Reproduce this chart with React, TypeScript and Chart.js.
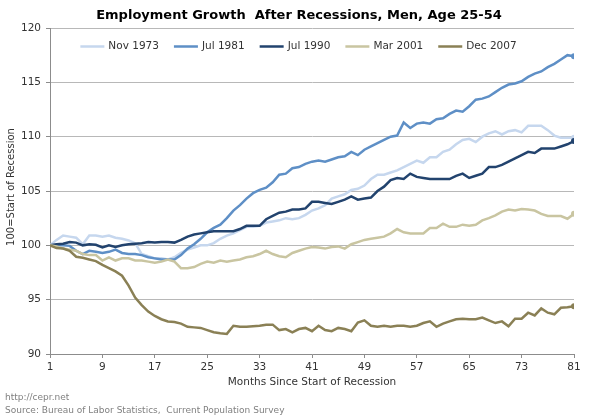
import React, { useEffect, useRef } from "react";
import { Chart, registerables } from "chart.js";

Chart.register(...registerables);

const chartTitle = "Employment Growth  After Recessions, Men, Age 25-54";
const xAxisTitle = "Months Since Start of Recession";
const yAxisTitle = "100=Start of Recession";
const footerLines = ["http://cepr.net", "Source: Bureau of Labor Statistics,  Current Population Survey"];

const months = Array.from({ length: 81 }, (_, i) => i + 1);
const xTicks = [1, 9, 17, 25, 33, 41, 49, 57, 65, 73, 81];
const yTicks = [90, 95, 100, 105, 110, 115, 120];

const seriesNames = ["Nov 1973", "Jul 1981", "Jul 1990", "Mar 2001", "Dec 2007"];
const seriesColors = ["#c6d7ee", "#5e8fc6", "#22436e", "#c9c5a1", "#8a8055"];

const nov1973 = [
  100.0, 100.5, 100.9, 100.8, 100.7, 100.1, 100.9, 100.9, 100.8, 100.9,
  100.7, 100.6, 100.45, 100.2, 99.2, 99.0, 98.8, 98.8, 98.7, 98.9,
  99.3, 99.6, 99.8, 100.0, 100.0, 100.2, 100.6, 100.9, 101.1, 101.4,
  101.7, 101.7, 101.8, 102.1, 102.2, 102.3, 102.5, 102.4, 102.5, 102.8,
  103.2, 103.4, 103.7, 104.3, 104.5, 104.7, 105.1, 105.2, 105.5, 106.1,
  106.5, 106.5, 106.7, 106.9, 107.2, 107.5, 107.8, 107.6, 108.1, 108.1,
  108.6, 108.8, 109.3, 109.7, 109.8, 109.5, 110.0, 110.3, 110.5, 110.2,
  110.5, 110.6, 110.4, 111.0, 111.0, 111.0, 110.6, 110.1, 109.9, 109.9,
  109.9,
];

const jul1981 = [
  100.0, 100.0, 100.0, 99.95, 99.5, 99.2, 99.5, 99.4, 99.3, 99.4,
  99.6, 99.3, 99.2, 99.2, 99.1, 98.9, 98.8, 98.7, 98.7, 98.7,
  99.1, 99.7, 100.1, 100.6, 101.2, 101.6, 101.9, 102.5, 103.2, 103.7,
  104.3, 104.8, 105.1, 105.3, 105.8, 106.5, 106.6, 107.1, 107.2, 107.5,
  107.7, 107.8, 107.7, 107.9, 108.1, 108.2, 108.6, 108.3, 108.8, 109.1,
  109.4, 109.7, 110.0, 110.1, 111.3, 110.8, 111.2, 111.3, 111.2, 111.6,
  111.7, 112.1, 112.4, 112.3, 112.8, 113.4, 113.5, 113.7, 114.1, 114.5,
  114.8, 114.9, 115.1, 115.5, 115.8, 116.0, 116.4, 116.7, 117.1, 117.5,
  117.4,
];

const jul1990 = [
  100.0, 100.1, 100.15, 100.3, 100.25, 100.0, 100.1, 100.05, 99.8, 100.0,
  99.85, 100.0, 100.1, 100.15, 100.2, 100.3, 100.25, 100.3, 100.3, 100.25,
  100.5, 100.8, 101.0, 101.1, 101.2, 101.3, 101.3, 101.3, 101.3, 101.5,
  101.8, 101.8, 101.8, 102.4, 102.7, 103.0, 103.1, 103.3, 103.3, 103.4,
  104.0, 104.0, 103.9, 103.8, 104.0, 104.2, 104.5, 104.2, 104.3, 104.4,
  105.0, 105.4, 106.0, 106.2, 106.1, 106.6, 106.3, 106.2, 106.1, 106.1,
  106.1, 106.1, 106.4, 106.6, 106.2, 106.4, 106.6, 107.2, 107.2, 107.4,
  107.7, 108.0, 108.3, 108.6, 108.5, 108.9, 108.9, 108.9, 109.1, 109.3,
  109.6,
];

const mar2001 = [
  100.0, 99.9, 99.7, 99.6, 99.5, 99.2, 99.1, 99.1, 98.6, 98.9,
  98.6, 98.8, 98.8, 98.6, 98.6, 98.5, 98.4, 98.5, 98.7, 98.5,
  97.9, 97.9, 98.0, 98.3, 98.5, 98.4, 98.6, 98.5, 98.6, 98.7,
  98.9, 99.0, 99.2, 99.5, 99.2, 99.0, 98.9, 99.3, 99.5, 99.7,
  99.85, 99.8, 99.7, 99.85, 99.9, 99.7, 100.1, 100.3, 100.5, 100.6,
  100.7, 100.8, 101.1, 101.5, 101.2, 101.1, 101.1, 101.1, 101.6, 101.6,
  102.0, 101.7, 101.7, 101.9, 101.8, 101.9, 102.3, 102.5, 102.75, 103.1,
  103.3, 103.2, 103.35, 103.3, 103.2, 102.9, 102.7, 102.7, 102.7, 102.45,
  102.9,
];

const dec2007 = [
  100.0, 99.75, 99.7, 99.5, 98.95, 98.85, 98.7, 98.55, 98.2, 97.9,
  97.6, 97.2, 96.3, 95.2, 94.5, 93.9, 93.5, 93.2, 93.0, 92.95,
  92.8, 92.5, 92.45, 92.4, 92.2, 92.0, 91.9, 91.85, 92.6, 92.5,
  92.5, 92.55, 92.6, 92.7, 92.7, 92.2, 92.3, 92.0, 92.3, 92.4,
  92.1, 92.6, 92.2, 92.1, 92.4, 92.3, 92.1, 92.9, 93.1, 92.6,
  92.5, 92.6, 92.5, 92.6, 92.6, 92.5, 92.6, 92.85, 93.0, 92.5,
  92.8, 93.0, 93.2, 93.25, 93.2, 93.2, 93.35, 93.1, 92.85, 93.0,
  92.55, 93.25, 93.25, 93.8, 93.55, 94.2, 93.8, 93.65, 94.25, 94.3,
  94.4,
];

const seriesValues = [nov1973, jul1981, jul1990, mar2001, dec2007];

const FONT = '"DejaVu Sans", Verdana, sans-serif';

const overlayPlugin = {
  id: "overlayText",
  afterDraw(chart: any) {
    const ctx = chart.ctx as CanvasRenderingContext2D;
    const area = chart.chartArea;
    ctx.save();

    // title
    ctx.fillStyle = "#000000";
    ctx.font = `bold 13px ${FONT}`;
    ctx.textAlign = "center";
    ctx.textBaseline = "middle";
    ctx.fillText(chartTitle, 299, 16);

    // legend (inside plot, top)
    ctx.font = `10.5px ${FONT}`;
    const lineLen = 24;
    const gapLineText = 4;
    const gapItems = 15;
    const widths = seriesNames.map((n) => ctx.measureText(n).width);
    const total =
      widths.reduce((a, w) => a + lineLen + gapLineText + w, 0) + gapItems * (seriesNames.length - 1);
    let lx = 298.5 - total / 2;
    const ly = 46.5;
    seriesNames.forEach((name, i) => {
      ctx.strokeStyle = seriesColors[i];
      ctx.lineWidth = 2.5;
      ctx.beginPath();
      ctx.moveTo(lx, ly);
      ctx.lineTo(lx + lineLen, ly);
      ctx.stroke();
      ctx.fillStyle = "#333333";
      ctx.textAlign = "left";
      ctx.textBaseline = "middle";
      ctx.fillText(name, lx + lineLen + gapLineText, ly);
      lx += lineLen + gapLineText + widths[i] + gapItems;
    });

    // x axis title
    ctx.fillStyle = "#333333";
    ctx.font = `10.5px ${FONT}`;
    ctx.textAlign = "center";
    ctx.textBaseline = "middle";
    ctx.fillText(xAxisTitle, (area.left + area.right) / 2, 382);

    // y axis title
    ctx.save();
    ctx.translate(11, (area.top + area.bottom) / 2 - 4);
    ctx.rotate(-Math.PI / 2);
    ctx.font = `10px ${FONT}`;
    ctx.fillText(yAxisTitle, 0, 0);
    ctx.restore();

    // footer
    ctx.fillStyle = "#808080";
    ctx.font = `9px ${FONT}`;
    ctx.textAlign = "left";
    ctx.textBaseline = "middle";
    ctx.fillText(footerLines[0], 5, 397.5);
    ctx.fillText(footerLines[1], 5, 410.5);

    ctx.restore();
  },
};

export default function App() {
  const canvasRef = useRef<HTMLCanvasElement | null>(null);

  useEffect(() => {
    document.body.style.margin = "0";
    const canvas = canvasRef.current;
    if (!canvas) return;
    const last = months.length - 1;
    const chart = new Chart(canvas, {
      type: "line",
      data: {
        datasets: seriesNames.map((name, i) => ({
          label: name,
          data: seriesValues[i].map((v, j) => ({ x: months[j], y: v })),
          borderColor: seriesColors[i],
          backgroundColor: seriesColors[i],
          borderWidth: 2.5,
          tension: 0,
          fill: false,
          pointRadius: (c: any) => (c.dataIndex === last ? 3 : 0),
          pointHoverRadius: 0,
          pointBorderWidth: 0,
          order: seriesNames.length - i,
        })),
      },
      options: {
        responsive: false,
        animation: false,
        devicePixelRatio: 1,
        events: [],
        layout: { padding: { left: 5, right: 15, top: 28, bottom: 0 } },
        plugins: {
          legend: { display: false },
          title: { display: false },
          tooltip: { enabled: false },
        },
        scales: {
          x: {
            type: "linear",
            min: 1,
            max: 81,
            afterBuildTicks: (s: any) => {
              s.ticks = xTicks.map((v) => ({ value: v }));
            },
            afterFit: (s: any) => {
              s.height = 63;
            },
            grid: { drawOnChartArea: false, color: "#8c8c8c", tickLength: 4 },
            border: { color: "#8c8c8c" },
            ticks: {
              color: "#333333",
              font: { family: FONT, size: 10.5 },
              padding: 3,
              maxRotation: 0,
              autoSkip: false,
            },
          },
          y: {
            min: 90,
            max: 120,
            afterBuildTicks: (s: any) => {
              s.ticks = yTicks.map((v) => ({ value: v }));
            },
            afterFit: (s: any) => {
              s.width = 45;
            },
            grid: { color: "#b8b8b8", tickColor: "#8c8c8c", tickLength: 4 },
            border: { color: "#8c8c8c" },
            ticks: {
              color: "#333333",
              font: { family: FONT, size: 10.5 },
              padding: 5,
            },
          },
        },
      },
      plugins: [overlayPlugin],
    });
    return () => chart.destroy();
  }, []);

  return (
    <div style={{ position: "absolute", left: 0, top: 0, width: 589, height: 417, background: "#ffffff" }}>
      <canvas ref={canvasRef} width={589} height={417} />
    </div>
  );
}
